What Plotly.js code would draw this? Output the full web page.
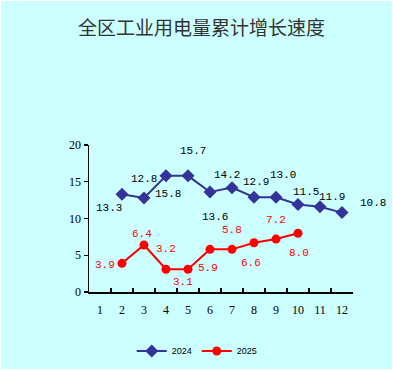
<!DOCTYPE html>
<html><head><meta charset="utf-8">
<script src="https://cdn.plot.ly/plotly-3.0.1.min.js"></script>
<style>html,body{margin:0;padding:0;background:#fff;}#c{position:absolute;left:1px;top:1px;width:391px;height:368px;}</style>
</head><body><div id="c"></div>
<script>
const months = ["1","2","3","4","5","6","7","8","9","10","11","12"];
const months2024 = ["2","3","4","5","6","7","8","9","10","11","12"];
const values2024 = [13.3,12.8,15.8,15.8,13.6,14.2,12.9,12.9,11.9,11.6,10.8];
const labels2024 = ["13.3","12.8","15.8","15.7","13.6","14.2","12.9","13.0","11.5","11.9","10.8"];
const months2025 = ["2","3","4","5","6","7","8","9","10"];
const values2025 = [3.9,6.4,3.1,3.1,5.8,5.8,6.7,7.2,8.0];
const labels2025 = ["3.9","6.4","3.2","3.1","5.9","5.8","6.6","7.2","8.0"];
const yTicks = [0,5,10,15,20];

// label offsets (pixels: right, down) — styling only
const off2024 = [[-13,14],[0,-19],[2,18],[5,-25],[5,25],[-5,-13],[2,-15],[7,-22],[8,-13],[12,-10],[31,-10]];
const off2025 = [[-17,2],[-2,-11],[0,-20],[-5,13],[-2,19],[0,-19],[-3,20],[0,-19],[1,20]];

const traces = [
  {x: months2024, y: values2024, name: "2024", type: "scatter", mode: "lines+markers",
   line: {color: "#333399", width: 2}, marker: {symbol: "diamond", size: 10, color: "#333399"}, hoverinfo: "none"},
  {x: months2025, y: values2025, name: "2025", type: "scatter", mode: "lines+markers",
   line: {color: "#FF0000", width: 2}, marker: {symbol: "circle", size: 9, color: "#FF0000"}, hoverinfo: "none"}
];

const ann = [];
months2024.forEach((m,i)=>ann.push({x: months.indexOf(m), y: values2024[i], text: labels2024[i], showarrow: false,
  xshift: off2024[i][0], yshift: -off2024[i][1], font: {family: "Liberation Mono, monospace", size: 11, color: "#000"}}));
months2025.forEach((m,i)=>ann.push({x: months.indexOf(m), y: values2025[i], text: labels2025[i], showarrow: false,
  xshift: off2025[i][0], yshift: -off2025[i][1], font: {family: "Liberation Mono, monospace", size: 11, color: "#FF0000"}}));

const layout = {
  width: 391, height: 368,
  paper_bgcolor: "#CCFFFF", plot_bgcolor: "#CCFFFF",
  margin: {l: 88, r: 39, t: 144, b: 77},
  title: {text: "全区工业用电量累计增长速度", x: 0.513, xanchor: "center", y: 0.925, yanchor: "middle",
          font: {family: "Noto Sans CJK SC", size: 19, color: "#333"}},
  xaxis: {type: "category", categoryorder: "array", categoryarray: months, range: [-0.5, 11.5],
          showline: true, linecolor: "#000", linewidth: 1.5, showgrid: false, zeroline: false,
          ticks: "inside", tickson: "boundaries", ticklen: 4, tickcolor: "#000", tickwidth: 1.3,
          ticklabelstandoff: 6,
          tickfont: {family: "Liberation Serif, serif", size: 12, color: "#000"}, fixedrange: true},
  yaxis: {range: [0, 20], tickvals: yTicks, ticktext: yTicks.map(String),
          showline: true, linecolor: "#000", linewidth: 1.5, showgrid: false, zeroline: false,
          ticks: "outside", ticklen: 4, tickcolor: "#000", tickwidth: 1.3,
          tickfont: {family: "Liberation Serif, serif", size: 12, color: "#000"}, fixedrange: true},
  showlegend: true,
  legend: {orientation: "h", x: 0.41, xanchor: "center", xref: "paper", y: 0.049, yref: "container", yanchor: "middle",
           font: {family: "Liberation Sans, Arial", size: 9, color: "#000"}, bgcolor: "rgba(0,0,0,0)"},
  annotations: ann
};
Plotly.newPlot("c", traces, layout, {displayModeBar: false, staticPlot: true});
</script></body></html>
